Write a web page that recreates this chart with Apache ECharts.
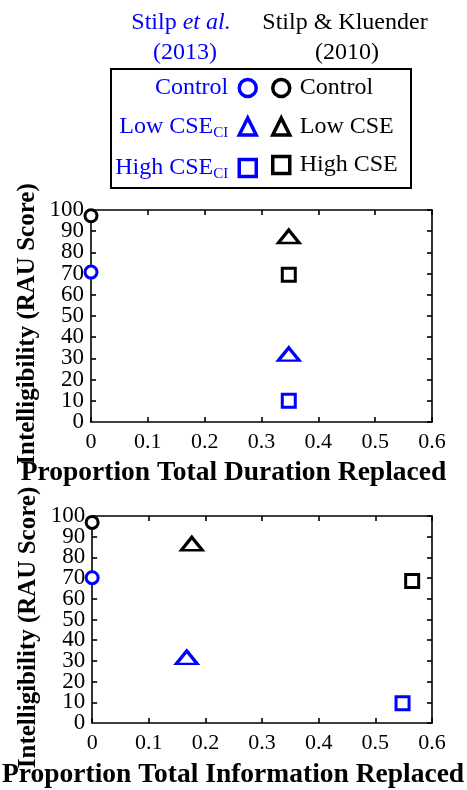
<!DOCTYPE html>
<html>
<head>
<meta charset="utf-8">
<script src="https://cdn.jsdelivr.net/npm/echarts@6/dist/echarts.min.js"></script>
<style>
html,body{margin:0;padding:0;background:#fff;}
#chart{width:467px;height:790px;}
</style>
</head>
<body>
<div id="chart"></div>
<script>
// ---- data ----
const names2013 = ['Control (2013)', 'Low CSE_CI (2013)', 'High CSE_CI (2013)'];
const names2010 = ['Control (2010)', 'Low CSE (2010)', 'High CSE (2010)'];
const symbols = ['circle', 'triangle', 'rect'];
// Top panel: Proportion Total Duration Replaced
const durationX2013 = [0, 0.348, 0.348];
const durationY2013 = [70.7, 32, 10];
const durationX2010 = [0, 0.348, 0.348];
const durationY2010 = [97.3, 87.5, 69.5];
// Bottom panel: Proportion Total Information Replaced
const infoX2013 = [0, 0.167, 0.548];
const infoY2013 = [70.2, 31.7, 9.5];
const infoX2010 = [0, 0.176, 0.565];
const infoY2010 = [96.9, 86.6, 68.6];
const xTitles = ['Proportion Total Duration Replaced', 'Proportion Total Information Replaced'];
const yTitle = 'Intelligibility (RAU Score)';

const FONT = 'Liberation Serif';
const BLUE = '#0000ff';
const BLACK = '#000000';

const chart = echarts.init(document.getElementById('chart'), null, {renderer: 'canvas'});

const grids = [
  {left: 91, right: 35, top: 210, height: 212},
  {left: 91, right: 35, top: 516, height: 212}
];

const xAxes = [], yAxes = [];
const lineStyle = {color: BLACK, width: 1.6};
const yLabelStyle = {color: BLACK, fontFamily: FONT, fontSize: 23, margin: 7};
grids.forEach((g, i) => {
  xAxes.push({
    gridIndex: i, type: 'value', min: 0, max: 0.6, interval: 0.1, position: 'bottom',
    axisLine: {show: true, onZero: false, lineStyle},
    axisTick: {show: true, inside: true, length: 5, lineStyle},
    axisLabel: {color: BLACK, fontFamily: FONT, fontSize: 22, margin: 9,
      showMinLabel: true, showMaxLabel: true},
    splitLine: {show: false},
    name: xTitles[i], nameLocation: 'middle', nameGap: i === 0 ? 37 : 38,
    nameTextStyle: {color: BLACK, fontFamily: FONT, fontWeight: 'bold', fontSize: 27.5,
      padding: [0, i === 0 ? 56 : 58, 0, 0]}
  });
  xAxes.push({
    gridIndex: i, type: 'value', min: 0, max: 0.6, interval: 0.1, position: 'top',
    axisLine: {show: true, onZero: false, lineStyle},
    axisTick: {show: true, inside: true, length: 5, lineStyle},
    axisLabel: {show: false}, splitLine: {show: false}
  });
  // main left axis (index 3i): line, ticks every 10, labels at odd tens
  yAxes.push({
    gridIndex: i, type: 'value', min: 0, max: 100, interval: 10, position: 'left',
    axisLine: {show: true, onZero: false, lineStyle},
    axisTick: {show: true, inside: true, length: 5, lineStyle},
    axisLabel: Object.assign({}, yLabelStyle, {
      showMinLabel: false, showMaxLabel: false,
      formatter: v => (Math.round(v / 10) % 2 === 1 ? String(v) : '')
    }),
    splitLine: {show: false},
    name: yTitle, nameLocation: 'middle', nameGap: 51,
    nameTextStyle: {color: BLACK, fontFamily: FONT, fontWeight: 'bold', fontSize: 25,
      padding: [0, 16, 0, 0]}
  });
  // right mirror axis (index 3i+1)
  yAxes.push({
    gridIndex: i, type: 'value', min: 0, max: 100, interval: 10, position: 'right',
    axisLine: {show: true, onZero: false, lineStyle},
    axisTick: {show: true, inside: true, length: 5, lineStyle},
    axisLabel: {show: false}, splitLine: {show: false}
  });
  // left label axis (index 3i+2): labels at even tens
  yAxes.push({
    gridIndex: i, type: 'value', min: 0, max: 100, interval: 20, position: 'left',
    axisLine: {show: false}, axisTick: {show: false},
    axisLabel: Object.assign({}, yLabelStyle, {showMinLabel: true, showMaxLabel: true}),
    splitLine: {show: false}
  });
});

function symSize(sym) {
  if (sym === 'circle') return 12;
  if (sym === 'triangle') return [21, 13];
  return 13;
}

const series = [];
const panels = [
  {x13: durationX2013, y13: durationY2013, x10: durationX2010, y10: durationY2010},
  {x13: infoX2013, y13: infoY2013, x10: infoX2010, y10: infoY2010}
];
panels.forEach((p, gi) => {
  for (let k = 0; k < 3; k++) {
    series.push({
      type: 'scatter', name: names2013[k], xAxisIndex: gi * 2, yAxisIndex: gi * 3,
      symbol: symbols[k], symbolSize: symSize(symbols[k]),
      itemStyle: {color: '#ffffff', borderColor: BLUE, borderWidth: 3, opacity: 1},
      data: [[p.x13[k], p.y13[k]]], z: 5, clip: false
    });
    series.push({
      type: 'scatter', name: names2010[k], xAxisIndex: gi * 2, yAxisIndex: gi * 3,
      symbol: symbols[k], symbolSize: symSize(symbols[k]),
      itemStyle: {color: '#ffffff', borderColor: BLACK, borderWidth: 3, opacity: 1},
      data: [[p.x10[k], p.y10[k]]], z: 5, clip: false
    });
  }
});

function legendFormatter(name) {
  const base = name.replace(/ \(\d{4}\)$/, '');
  if (base.endsWith('_CI')) {
    return '{n|' + base.slice(0, -3) + '}{s|CI}';
  }
  return '{n|' + base + '}';
}

function legendRich(color) {
  return {
    n: {fontFamily: FONT, fontSize: 24, color: color, lineHeight: 30, verticalAlign: 'middle'},
    s: {fontFamily: FONT, fontSize: 15, color: color, lineHeight: 30, verticalAlign: 'bottom', padding: [0, 0, 1, 0]}
  };
}

const option = {
  backgroundColor: '#ffffff',
  animation: false,
  grid: grids,
  xAxis: xAxes,
  yAxis: yAxes,
  series: series,
  legend: [
    {
      data: names2013, orient: 'vertical', align: 'right',
      right: 467 - 258, top: 76, itemGap: 14.5, itemWidth: 17, itemHeight: 17,
      formatter: legendFormatter,
      textStyle: {color: BLUE, fontFamily: FONT, fontSize: 24, rich: legendRich(BLUE), padding: [0, 6, 0, 0]},
      itemStyle: {borderWidth: 3.5}, selectedMode: false, padding: 0
    },
    {
      data: names2010, orient: 'vertical', align: 'left',
      left: 271, top: 76, itemGap: 14.5, itemWidth: 17, itemHeight: 17,
      formatter: legendFormatter,
      textStyle: {color: BLACK, fontFamily: FONT, fontSize: 24, rich: legendRich(BLACK), padding: [0, 0, 0, 5]},
      itemStyle: {borderWidth: 3.5}, selectedMode: false, padding: 0
    }
  ],
  graphic: [
    {
      type: 'rect', shape: {x: 111, y: 69, width: 300, height: 119},
      style: {fill: 'none', stroke: BLACK, lineWidth: 2}, z: 1
    },
    {
      type: 'text', z: 10,
      style: {
        x: 181, y: 23, align: 'center', verticalAlign: 'middle',
        text: '{a|Stilp }{b|et al.}',
        rich: {
          a: {fontFamily: FONT, fontSize: 24, fill: BLUE, color: BLUE},
          b: {fontFamily: FONT, fontSize: 24, fontStyle: 'italic', fill: BLUE, color: BLUE}
        }
      }
    },
    {
      type: 'text', z: 10,
      style: {x: 185, y: 53, align: 'center', verticalAlign: 'middle', text: '(2013)',
        fontFamily: FONT, fontSize: 24, fill: BLUE}
    },
    {
      type: 'text', z: 10,
      style: {x: 345, y: 23, align: 'center', verticalAlign: 'middle', text: 'Stilp & Kluender',
        fontFamily: FONT, fontSize: 24, fill: BLACK}
    },
    {
      type: 'text', z: 10,
      style: {x: 347, y: 53, align: 'center', verticalAlign: 'middle', text: '(2010)',
        fontFamily: FONT, fontSize: 24, fill: BLACK}
    }
  ]
};
chart.setOption(option);
</script>
</body>
</html>
